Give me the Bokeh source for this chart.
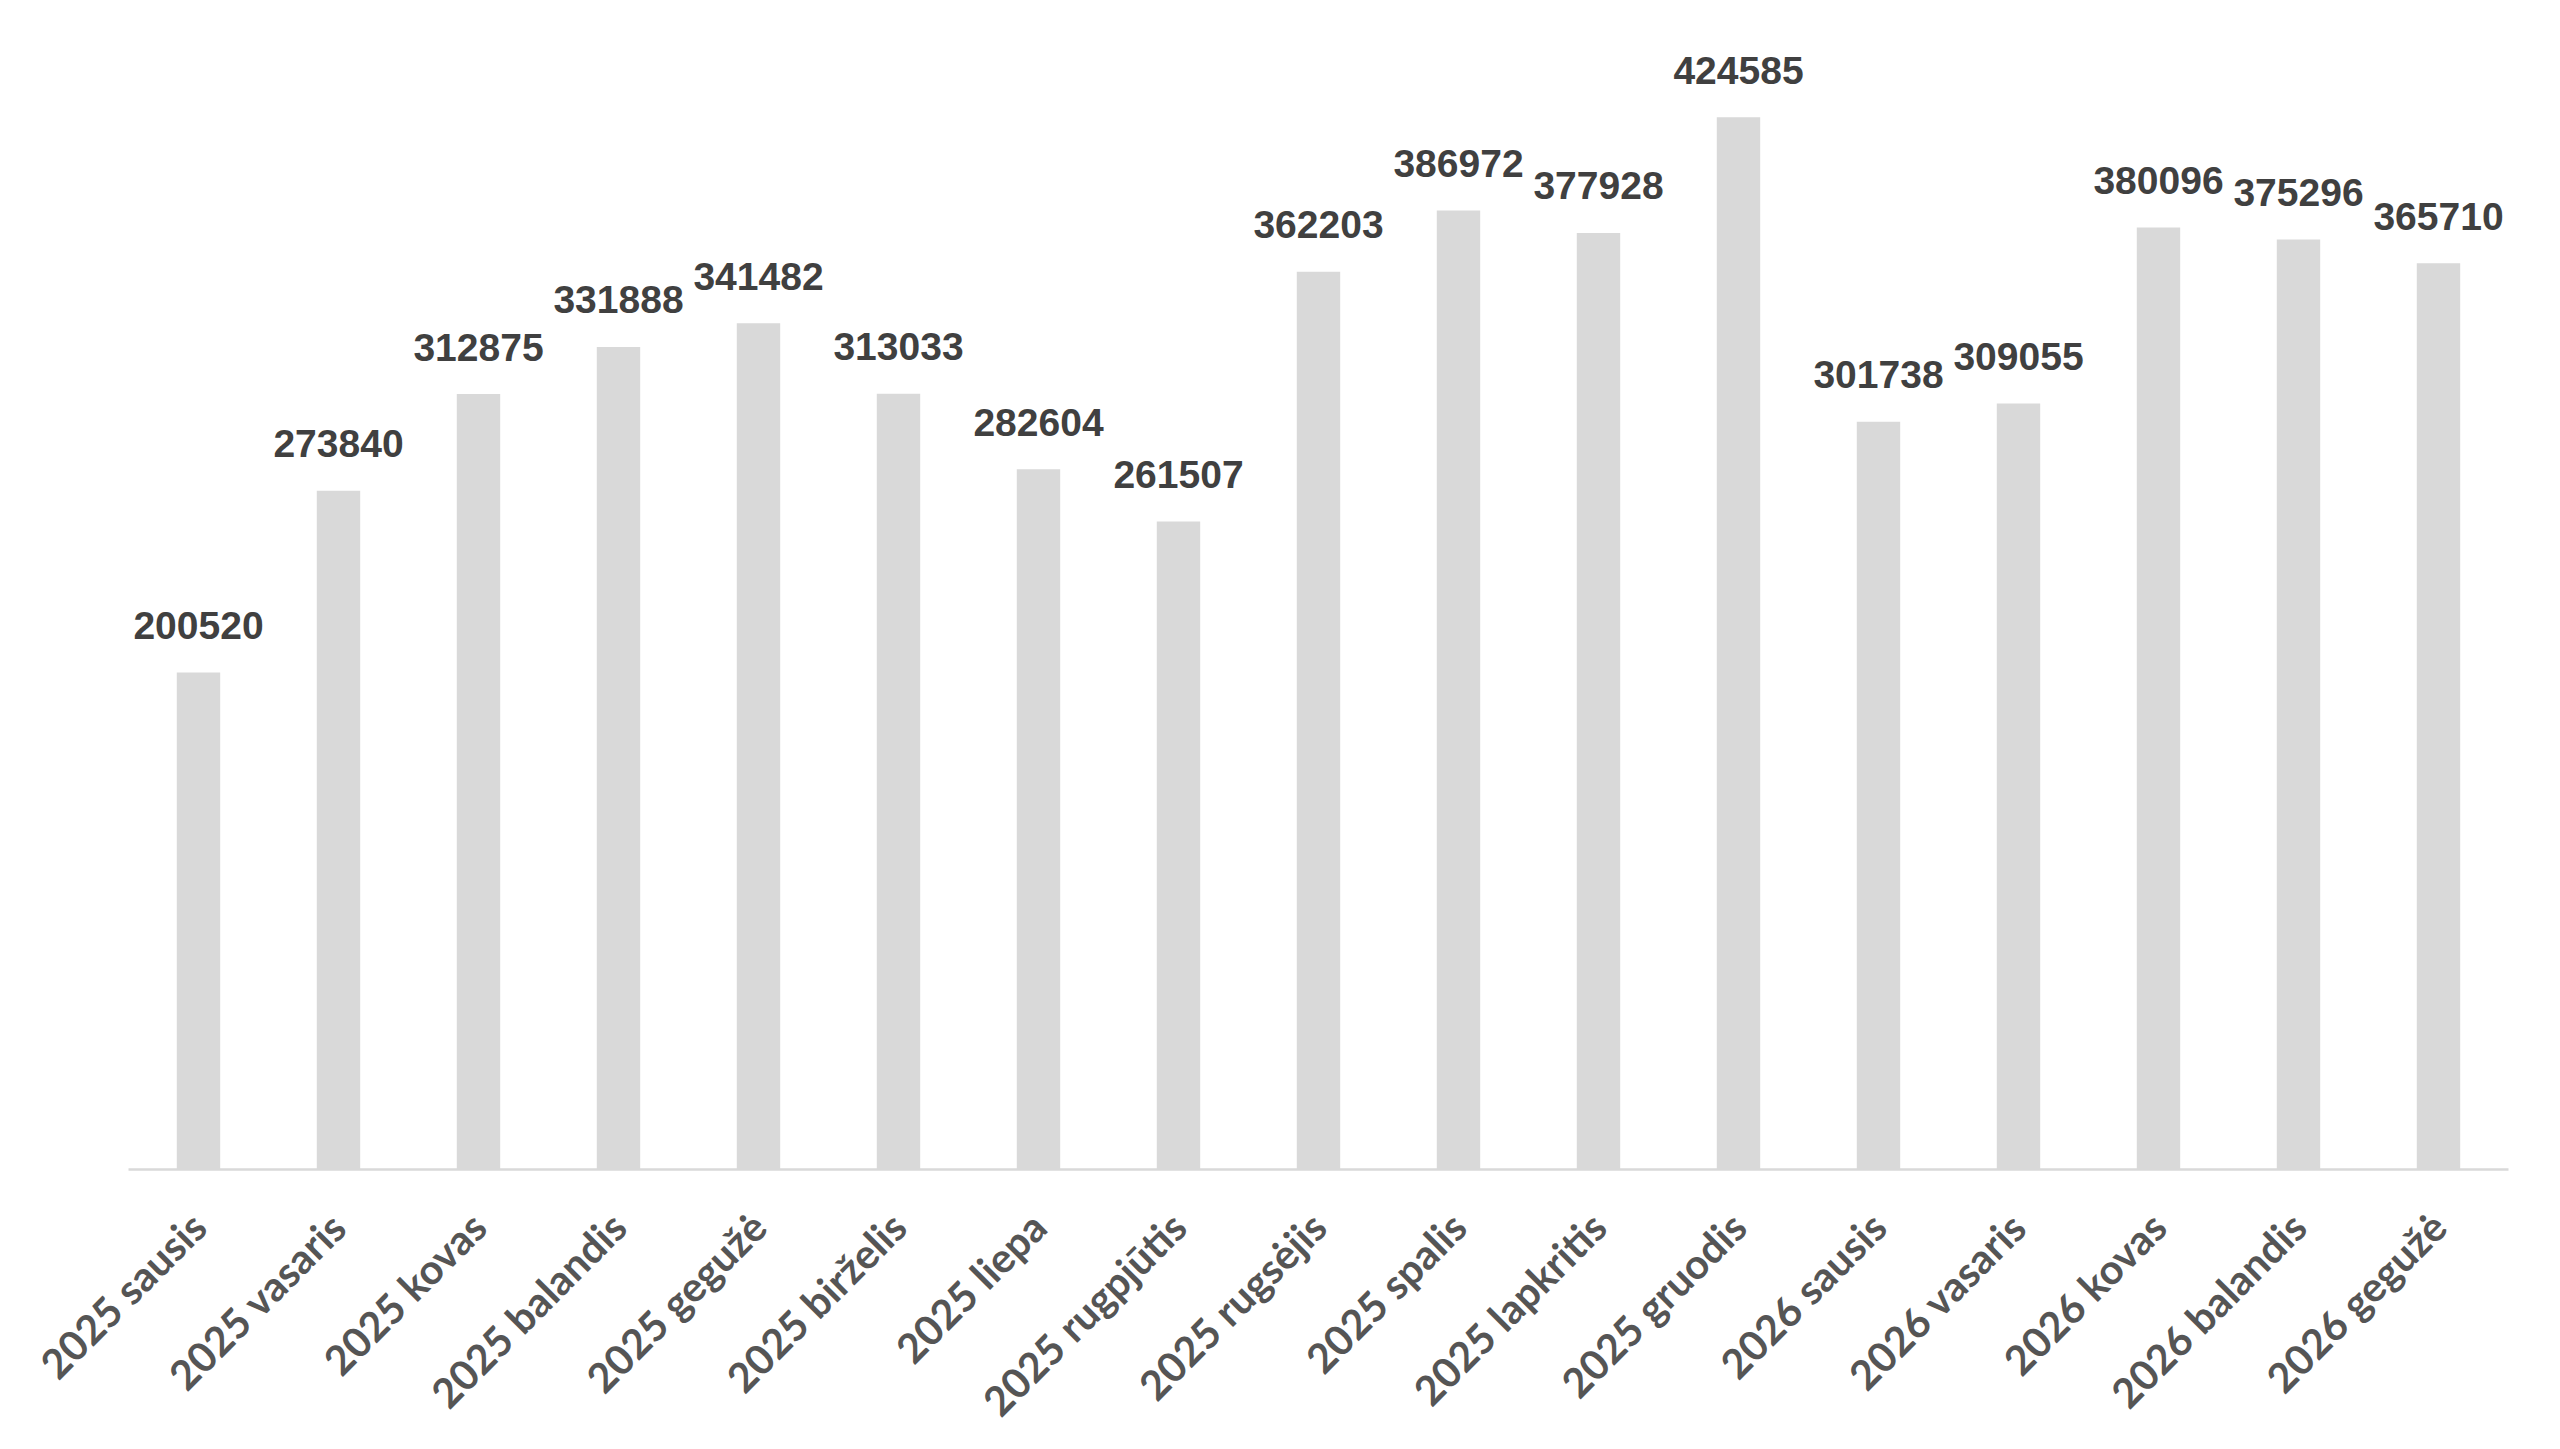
import math
from bokeh.plotting import figure
from bokeh.models import ColumnDataSource, Range1d
from bokeh.core.properties import value
from bokeh.embed import file_html
from bokeh.resources import INLINE

months = ["2025 sausis", "2025 vasaris", "2025 kovas", "2025 balandis", "2025 gegužė",
          "2025 birželis", "2025 liepa", "2025 rugpjūtis", "2025 rugsėjis", "2025 spalis",
          "2025 lapkritis", "2025 gruodis", "2026 sausis", "2026 vasaris", "2026 kovas",
          "2026 balandis", "2026 gegužė"]
counts = [200520, 273840, 312875, 331888, 341482, 313033, 282604, 261507, 362203,
          386972, 377928, 424585, 301738, 309055, 380096, 375296, 365710]
count_labels = [str(v) for v in counts]

source = ColumnDataSource(data=dict(month=months, count=counts, label=count_labels))

p = figure(x_range=months, y_range=Range1d(0, 460000), width=2560, height=1449,
           output_backend="svg", toolbar_location=None,
           min_border_left=128, min_border_right=52, min_border_top=29, min_border_bottom=280)

p.vbar(x="month", top="count", width=0.31, source=source,
       fill_color="#d9d9d9", line_color=None)

p.text(x="month", y="count", text="label", source=source,
       text_font=value("Liberation Sans"), text_font_style="bold",
       text_font_size="39px", text_color="#404040",
       text_align="center", text_baseline="alphabetic", y_offset=-47)

p.yaxis.visible = False
p.xgrid.visible = False
p.ygrid.visible = False
p.outline_line_color = None
p.background_fill_color = "white"
p.border_fill_color = "white"

ax = p.xaxis[0]
ax.axis_line_color = "#d9d9d9"
ax.axis_line_width = 2.5
ax.major_tick_line_color = None
ax.minor_tick_line_color = None
ax.major_label_orientation = math.pi / 4
ax.major_label_text_font = "Lato"
ax.major_label_text_font_style = "bold"
ax.major_label_text_font_size = "41px"
ax.major_label_text_color = "#555555"
ax.major_label_standoff = 44
p.x_range.range_padding = 0

open("out.html", "w").write(file_html(p, INLINE))
